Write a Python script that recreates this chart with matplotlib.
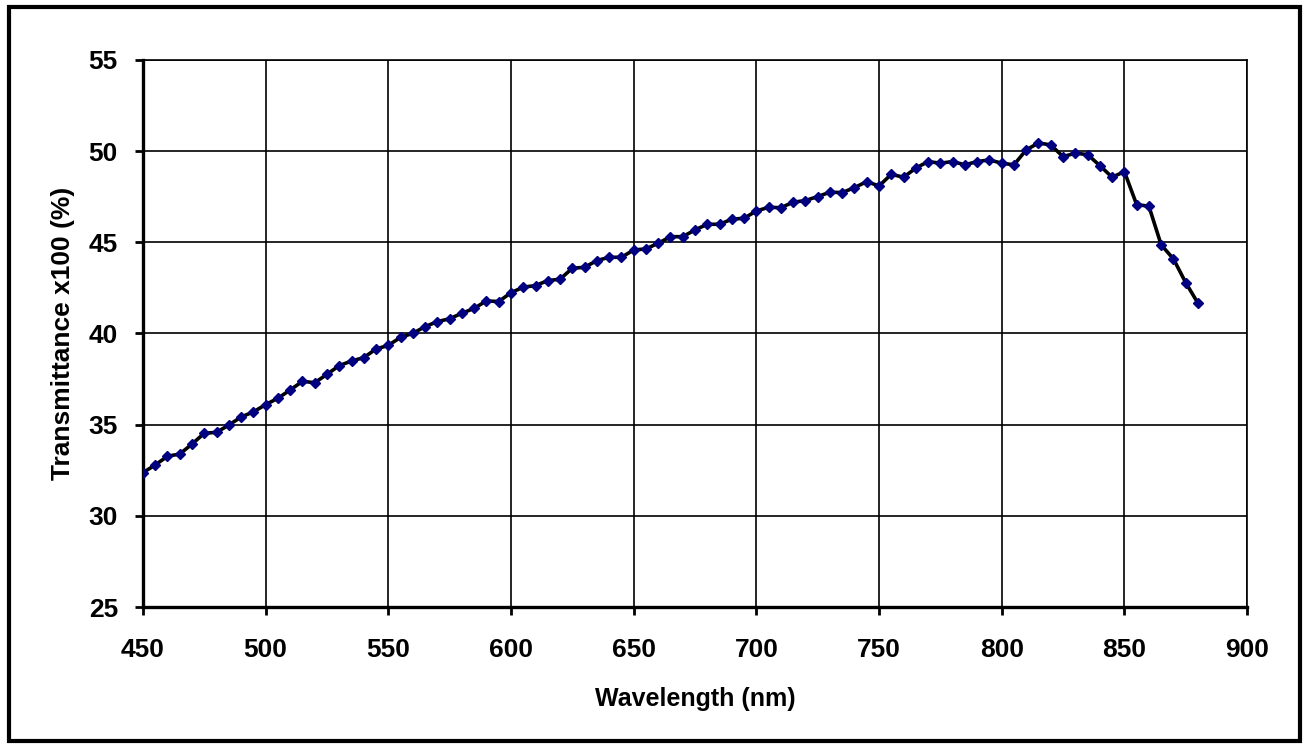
import matplotlib
matplotlib.use("Agg")
import matplotlib.pyplot as plt
from matplotlib.patches import Rectangle

wavelength = list(range(450, 885, 5))
transmittance = [
    32.37, 32.79, 33.27, 33.39, 33.94, 34.53, 34.58, 34.98, 35.42, 35.70,
    36.10, 36.45, 36.90, 37.38, 37.30, 37.76, 38.24, 38.49, 38.68, 39.15,
    39.35, 39.79, 40.01, 40.38, 40.65, 40.81, 41.11, 41.38, 41.79, 41.75,
    42.24, 42.54, 42.63, 42.90, 42.98, 43.58, 43.63, 44.00, 44.18, 44.18,
    44.58, 44.64, 44.95, 45.31, 45.31, 45.68, 45.99, 45.99, 46.27, 46.32,
    46.72, 46.92, 46.90, 47.20, 47.29, 47.51, 47.75, 47.73, 48.00, 48.33,
    48.09, 48.73, 48.57, 49.07, 49.43, 49.34, 49.43, 49.25, 49.43, 49.52,
    49.34, 49.25, 50.07, 50.45, 50.34, 49.70, 49.89, 49.81, 49.21, 48.57,
    48.88, 47.07, 46.98, 44.86, 44.09, 42.79, 41.66,
]
x_ticks = list(range(450, 901, 50))
y_ticks = list(range(25, 56, 5))

plt.rcParams['font.family'] = ['Liberation Sans', 'DejaVu Sans']
plt.rcParams['font.weight'] = 'bold'

fig = plt.figure(figsize=(13.08, 7.47), dpi=100)
ax = fig.add_axes([0.1093, 0.1874, 0.8441, 0.7323])

ax.plot(wavelength, transmittance, color='black', linewidth=2.6, zorder=3)
ax.plot(wavelength, transmittance, linestyle='none', marker='D', markersize=5.5,
        color='#000080', zorder=4)

ax.set_xlim(450, 900)
ax.set_ylim(25, 55)
ax.set_xticks(x_ticks)
ax.set_yticks(y_ticks)
ax.grid(True, color='black', linewidth=1.2)
ax.set_axisbelow(True)

for side in ['top', 'right']:
    ax.spines[side].set_linewidth(1.2)
for side in ['left', 'bottom']:
    ax.spines[side].set_linewidth(2.4)

ax.tick_params(direction='out', length=6, width=2, labelsize=19)
ax.tick_params(axis='x', pad=16)
ax.tick_params(axis='y', pad=12)
for lbl in ax.get_xticklabels() + ax.get_yticklabels():
    lbl.set_fontweight('bold')

ax.set_xlabel('Wavelength (nm)', fontsize=18, fontweight='bold', labelpad=18)
ax.set_ylabel('Transmittance x100 (%)', fontsize=19, fontweight='bold', labelpad=10)

fig.patches.append(Rectangle((0.007, 0.008), 0.987, 0.982, transform=fig.transFigure,
                             fill=False, edgecolor='black', linewidth=3))

fig.savefig('out.png', dpi=100)
